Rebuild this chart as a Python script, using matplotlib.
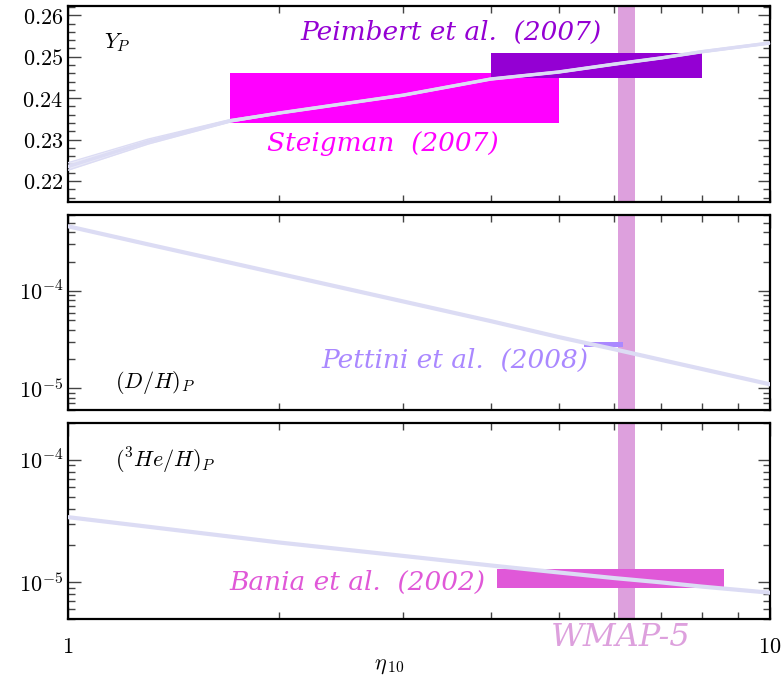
import numpy as np
import matplotlib
matplotlib.use("Agg")
import matplotlib.pyplot as plt
from matplotlib.ticker import FixedLocator, FuncFormatter, LogLocator, NullFormatter, MultipleLocator

plt.rcParams['mathtext.fontset'] = 'cm'
plt.rcParams['font.family'] = 'DejaVu Serif'

# BBN predictions vs eta_10
eta = [1, 1.3, 1.7, 2, 3, 4, 5, 6, 7, 8, 10]
yp_mid = [0.2235, 0.2295, 0.2345, 0.2364, 0.2407, 0.2446, 0.2463, 0.2482, 0.2497, 0.2512, 0.2533]
yp_hi = [0.2244, 0.2301, 0.2348, 0.2366, 0.2409, 0.2448, 0.2465, 0.2484, 0.2499, 0.2514, 0.2535]
yp_lo = [0.2226, 0.2289, 0.2342, 0.2362, 0.2405, 0.2444, 0.2461, 0.2480, 0.2495, 0.2510, 0.2531]
dh = [4.6e-4, 3.0e-4, 1.95e-4, 1.50e-4, 7.8e-5, 4.9e-5, 3.36e-5, 2.52e-5, 1.96e-5, 1.58e-5, 1.10e-5]
he3 = [3.4e-5, 2.84e-5, 2.36e-5, 2.11e-5, 1.64e-5, 1.37e-5, 1.20e-5, 1.08e-5, 9.96e-6, 9.2e-6, 8.2e-6]

# observational boxes: (eta_min, eta_max, y_min, y_max)
peimbert = (4.0, 8.0, 0.2449, 0.2508)
steigman = (1.7, 5.0, 0.234, 0.246)
pettini = (5.43, 6.17, 2.65e-5, 2.96e-5)
bania = (4.09, 8.59, 8.93e-6, 1.28e-5)
wmap = (6.08, 6.42)

c_line = '#dcdcf4'
c_wmap = '#dda0dd'
c_peim = '#9400d3'
c_steig = '#ff00ff'
c_pett = '#aa88ff'
c_bania = '#e058d8'

fig = plt.figure(figsize=(7.84, 6.77), dpi=100)
L, W = 68 / 784, 702 / 784
ax1 = fig.add_axes([L, 1 - 201.7 / 677, W, 196 / 677])
ax2 = fig.add_axes([L, 1 - 410 / 677, W, 195 / 677])
ax3 = fig.add_axes([L, 1 - 619 / 677, W, 196 / 677])


def px(x, y):
    # pixel position (from top-left) -> figure fraction
    return x / 784, 1 - y / 677


def box(ax, b, color):
    ax.fill_between([b[0], b[1]], b[2], b[3], color=color, lw=0, zorder=2)


def style(ax):
    ax.set_xscale('log')
    ax.set_xlim(1, 10)
    ax.tick_params(which='both', direction='in', top=True, right=True,
                   color='#444444', labelsize=16)
    ax.tick_params(which='major', length=9, width=1)
    ax.tick_params(which='minor', length=5, width=1)
    for s in ax.spines.values():
        s.set_linewidth(1.6)
    ax.xaxis.set_major_locator(FixedLocator([1, 10]))
    ax.xaxis.set_minor_locator(FixedLocator([2, 3, 4, 5, 6, 7, 8, 9]))
    ax.xaxis.set_minor_formatter(NullFormatter())
    ax.axvspan(wmap[0], wmap[1], color=c_wmap, lw=0, zorder=1)


logfmt = FuncFormatter(lambda v, p: r'$10^{%d}$' % int(round(np.log10(v))))
lab = dict(style='italic', fontsize=19, ha='center', va='center')

# --- Y_P
style(ax1)
ax1.set_ylim(0.215, 0.2623)
ax1.yaxis.set_major_locator(MultipleLocator(0.01))
ax1.yaxis.set_minor_locator(MultipleLocator(0.002))
ax1.yaxis.set_major_formatter(FuncFormatter(lambda v, p: r'$%.2f$' % v))
ax1.set_xticklabels([])
box(ax1, steigman, c_steig)
box(ax1, peimbert, c_peim)
ax1.fill_between(eta, yp_lo, yp_hi, color=c_line, alpha=0.6, lw=0, zorder=3)
ax1.plot(eta, yp_hi, color=c_line, lw=1, zorder=3)
ax1.plot(eta, yp_lo, color=c_line, lw=1, zorder=3)
ax1.plot(eta, yp_mid, color=c_line, lw=2.5, zorder=3)
fig.text(*px(104, 48), r'$Y_P$', fontsize=16)
fig.text(*px(451, 32), 'Peimbert et al.  (2007)', color=c_peim, **lab)
fig.text(*px(383, 143), 'Steigman  (2007)', color=c_steig, **lab)

# --- D/H
style(ax2)
ax2.set_yscale('log')
ax2.set_ylim(6e-6, 6e-4)
ax2.yaxis.set_major_locator(LogLocator(base=10, numticks=10))
ax2.yaxis.set_minor_locator(LogLocator(base=10, subs=np.arange(2, 10), numticks=10))
ax2.yaxis.set_major_formatter(logfmt)
ax2.yaxis.set_minor_formatter(NullFormatter())
ax2.set_xticklabels([])
box(ax2, pettini, c_pett)
ax2.plot(eta, dh, color=c_line, lw=3, zorder=3)
fig.text(*px(115, 388), r'$(D/H)_P$', fontsize=16)
fig.text(*px(455, 360), 'Pettini et al.  (2008)', color=c_pett, **lab)

# --- 3He/H
style(ax3)
ax3.set_yscale('log')
ax3.set_ylim(5e-6, 2e-4)
ax3.yaxis.set_major_locator(LogLocator(base=10, numticks=10))
ax3.yaxis.set_minor_locator(LogLocator(base=10, subs=np.arange(2, 10), numticks=10))
ax3.yaxis.set_major_formatter(logfmt)
ax3.yaxis.set_minor_formatter(NullFormatter())
ax3.xaxis.set_major_formatter(FuncFormatter(lambda v, p: r'$%d$' % v))
ax3.tick_params(axis='x', pad=12)
box(ax3, bania, c_bania)
ax3.plot(eta, he3, color=c_line, lw=3, zorder=3)
fig.text(*px(115, 468), r'$(^3He/H)_P$', fontsize=16)
fig.text(*px(357, 582), 'Bania et al.  (2002)', color=c_bania, **lab)
fig.text(*px(621, 637), 'WMAP-5', color=c_wmap, **dict(lab, fontsize=23))
fig.text(*px(389, 665), r'$\eta_{\,10}$', fontsize=16, ha='center', va='center')

fig.savefig('out.png', dpi=100)
